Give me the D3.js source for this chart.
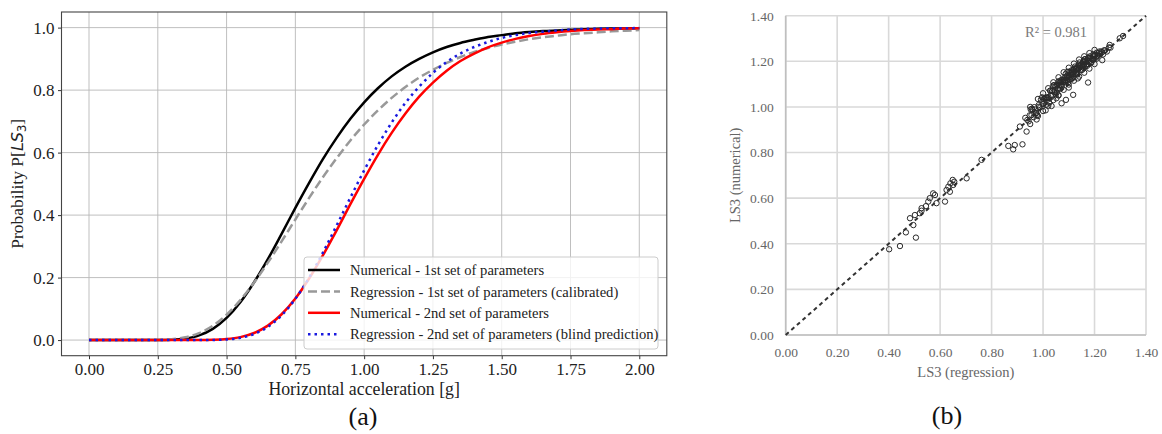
<!DOCTYPE html>
<html><head><meta charset="utf-8">
<script src="https://cdn.jsdelivr.net/npm/d3@7"></script>
<style>body{margin:0;background:#fff}svg{display:block}</style>
</head><body>
<svg id="c" width="1162" height="434"></svg>
<script>
// ---------- Data: chart (a) ----------
const accel = [0,0.05,0.1,0.15,0.2,0.25,0.3,0.35,0.4,0.45,0.5,0.55,0.6,0.65,0.7,0.75,0.8,0.85,0.9,0.95,1.0,1.05,1.1,1.15,1.2,1.25,1.3,1.35,1.4,1.45,1.5,1.55,1.6,1.65,1.7,1.75,1.8,1.85,1.9,1.95,2.0];
const numerical1 = [0,0,0,0,0,0.0001,0.001,0.0048,0.0149,0.0358,0.0708,0.121,0.185,0.259,0.340,0.423,0.503,0.579,0.647,0.708,0.761,0.806,0.844,0.875,0.900,0.921,0.938,0.951,0.961,0.970,0.976,0.982,0.986,0.989,0.991,0.993,0.995,0.996,0.997,0.9975,0.998];
const regression1 = [0,0,0,0,0,0.0005,0.0026,0.0088,0.0223,0.0459,0.0811,0.128,0.184,0.248,0.316,0.386,0.455,0.521,0.582,0.639,0.690,0.735,0.775,0.810,0.840,0.865,0.887,0.906,0.922,0.935,0.946,0.955,0.963,0.969,0.974,0.979,0.982,0.985,0.988,0.990,0.992];
const numerical2 = [0,0,0,0,0,0,0,0,0.0001,0.0008,0.0031,0.0094,0.0226,0.0462,0.0827,0.133,0.197,0.271,0.351,0.435,0.516,0.593,0.663,0.725,0.779,0.824,0.862,0.893,0.917,0.937,0.952,0.964,0.973,0.980,0.985,0.989,0.992,0.994,0.995,0.997,0.998];
const regression2 = [0,0,0,0,0,0,0,0,0.0001,0.0005,0.0022,0.0074,0.0194,0.0422,0.0793,0.132,0.200,0.280,0.367,0.456,0.543,0.624,0.696,0.759,0.811,0.855,0.890,0.917,0.938,0.954,0.967,0.976,0.983,0.987,0.991,0.994,0.996,0.997,0.998,0.998,0.999];
const seriesNames = ["Numerical - 1st set of parameters","Regression - 1st set of parameters (calibrated)","Numerical - 2nd set of parameters","Regression - 2nd set of parameters (blind prediction)"];
const xTicksA = [0,0.25,0.5,0.75,1.0,1.25,1.5,1.75,2.0];
const yTicksA = [0,0.2,0.4,0.6,0.8,1.0];

// ---------- Data: chart (b) ----------
const lsRegression = [
0.402,0.444,0.467,0.506,0.483,0.496,0.502,0.521,0.528,0.528,0.554,0.573,0.586,0.580,0.619,0.625,0.632,0.638,0.649,0.651,0.640,0.703,0.761,0.865,0.884,0.890,0.920,0.936,0.910,0.545,0.560,0.655,
0.931,0.944,0.952,0.939,0.957,0.963,0.948,0.971,0.966,0.977,0.983,0.959,0.989,0.996,0.974,1.002,1.011,0.992,1.018,1.007,
1.024,1.029,1.014,1.036,1.043,1.021,1.047,1.053,1.039,1.058,1.064,1.049,1.069,1.073,1.061,1.078,1.084,1.067,1.088,1.093,
1.081,1.097,1.102,1.086,1.106,1.111,1.095,1.116,1.121,1.104,1.124,1.129,1.113,1.133,1.138,1.119,1.142,1.147,1.127,1.151,
1.156,1.136,1.161,1.166,1.144,1.171,1.176,1.153,1.181,1.186,1.163,1.191,1.195,1.172,1.201,1.207,1.183,1.213,1.219,1.194,
1.226,1.233,1.209,1.241,1.248,1.222,1.262,1.027,1.055,1.091,1.118,1.149,1.174,1.198,1.068,1.109,1.139,1.159,1.188,1.211,
1.076,1.099,1.131,1.167,1.041,1.012,0.985,1.216,1.237,1.256,1.178,1.145,1.122,1.101,1.083,1.063,1.045,1.031,
1.052,1.057,1.066,1.071,1.079,1.087,1.094,1.103,1.107,1.114,1.126,1.134,1.141,1.154,1.162,1.169,1.184,1.192,1.204,1.229,
1.035,1.016,1.004,0.998,0.968,0.955,1.072,1.112,1.158,1.096,1.128,1.187,
0.950,0.950,0.980,0.980,1.000,1.000,1.020,1.020,1.040,1.040,1.060,1.060,1.080,1.080,1.100,1.100,1.120,1.120,1.140,1.140,1.160,1.160,1.180,1.180,1.200,1.200,1.230,
1.175,1.117,1.089,1.072,1.033,1.052,1.259,1.298,1.311,1.010,1.060,0.975,1.135,1.100];
const lsNumerical = [
0.376,0.390,0.450,0.427,0.512,0.482,0.526,0.534,0.545,0.556,0.585,0.621,0.578,0.614,0.585,0.636,0.650,0.628,0.680,0.658,0.665,0.687,0.768,0.829,0.814,0.833,0.836,0.892,0.914,0.565,0.600,0.672,
0.952,0.937,0.989,0.943,0.992,0.955,0.963,0.973,0.999,0.965,1.008,0.987,0.998,1.042,0.973,1.024,1.009,1.032,1.038,1.039,
1.018,1.072,1.043,1.049,1.096,1.043,1.089,1.063,1.093,1.078,1.111,1.054,1.108,1.089,1.113,1.108,1.129,1.080,1.145,1.119,
1.119,1.106,1.155,1.108,1.149,1.124,1.154,1.144,1.168,1.122,1.177,1.151,1.150,1.142,1.185,1.145,1.195,1.163,1.169,1.162,
1.198,1.165,1.207,1.181,1.181,1.180,1.216,1.174,1.216,1.195,1.210,1.208,1.230,1.187,1.230,1.211,1.222,1.224,1.243,1.206,
1.243,1.230,1.238,1.248,1.243,1.232,1.260,1.071,1.097,1.129,1.163,1.185,1.204,1.222,1.096,1.141,1.171,1.184,1.212,1.225,
1.111,1.137,1.167,1.195,1.066,1.039,1.001,1.236,1.248,1.261,1.200,1.174,1.156,1.135,1.113,1.096,1.075,1.053,
1.090,1.082,1.107,1.094,1.119,1.117,1.138,1.131,1.145,1.138,1.166,1.160,1.181,1.179,1.197,1.187,1.213,1.211,1.227,1.239,
1.070,1.031,1.035,1.012,0.989,0.964,1.119,1.161,1.202,1.116,1.144,1.194,
1.000,0.925,1.035,0.960,1.060,0.982,1.082,1.005,1.108,1.030,1.130,1.052,1.152,1.075,1.172,1.098,1.190,1.115,1.208,1.133,1.222,1.150,1.236,1.168,1.250,1.188,1.205,
1.107,1.053,1.031,1.016,1.004,1.038,1.272,1.301,1.311,0.985,1.050,0.945,1.125,1.085];
const ticksB = [0,0.2,0.4,0.6,0.8,1.0,1.2,1.4];
const r2Label = "R² = 0.981";

const svg = d3.select("#c");
const serif = "'Liberation Serif','Times New Roman',serif";

// ================= Chart (a) =================
const ax = {l:61.5, r:666.8, t:12, b:355.7};
const xA = d3.scaleLinear().domain([-0.1,2.1]).range([ax.l, ax.r]);
const yA = d3.scaleLinear().domain([-0.05,1.05]).range([ax.b, ax.t]);
const gA = svg.append("g");

gA.append("g").selectAll("line").data(xTicksA).join("line")
  .attr("x1",d=>xA(d)).attr("x2",d=>xA(d)).attr("y1",ax.t).attr("y2",ax.b)
  .attr("stroke","#b8b8b8").attr("stroke-width",0.9);
gA.append("g").selectAll("line").data(yTicksA).join("line")
  .attr("y1",d=>yA(d)).attr("y2",d=>yA(d)).attr("x1",ax.l).attr("x2",ax.r)
  .attr("stroke","#b8b8b8").attr("stroke-width",0.9);

const xAxisA = d3.axisBottom(xA).tickValues(xTicksA).tickFormat(d3.format(".2f")).tickSize(3.5).tickSizeOuter(0);
const yAxisA = d3.axisLeft(yA).tickValues(yTicksA).tickFormat(d3.format(".1f")).tickSize(3.5).tickSizeOuter(0);
const gxA = gA.append("g").attr("transform",`translate(0,${ax.b})`).call(xAxisA);
const gyA = gA.append("g").attr("transform",`translate(${ax.l},0)`).call(yAxisA);
[gxA,gyA].forEach(g=>{
  g.select(".domain").remove();
  g.selectAll(".tick line").attr("stroke","#333");
  g.selectAll("text").attr("font-family",serif).attr("font-size",17).attr("fill","#222");
});
gxA.selectAll("text").attr("dy","0.71em").attr("y",7);
gyA.selectAll("text").attr("x",-7);

const lineA = d3.line().x((d,i)=>xA(accel[i])).y(d=>yA(d)).curve(d3.curveMonotoneX);
const styles = [
  {data:numerical1, color:"#000", dash:null, w:2.5},
  {data:regression1, color:"#999", dash:"9,4", w:2.5},
  {data:numerical2, color:"#f00", dash:null, w:2.5},
  {data:regression2, color:"#1a1adf", dash:"2.5,4", w:2.5}
];
styles.forEach(s=>{
  gA.append("path").datum(s.data).attr("d",lineA).attr("fill","none")
    .attr("stroke",s.color).attr("stroke-width",s.w).attr("stroke-dasharray",s.dash);
});

gA.append("rect").attr("x",ax.l).attr("y",ax.t).attr("width",ax.r-ax.l).attr("height",ax.b-ax.t)
  .attr("fill","none").attr("stroke","#444").attr("stroke-width",1.1);

const lg = gA.append("g");
lg.append("rect").attr("x",304).attr("y",257).attr("width",354).attr("height",92).attr("rx",3)
  .attr("fill","#fff").attr("fill-opacity",0.8).attr("stroke","#ccc").attr("stroke-width",1);
styles.forEach((s,i)=>{
  const yy = 270 + i*21.4;
  lg.append("line").attr("x1",308).attr("x2",340).attr("y1",yy).attr("y2",yy)
    .attr("stroke",s.color).attr("stroke-width",s.w).attr("stroke-dasharray",s.dash);
  lg.append("text").attr("x",350).attr("y",yy).attr("dy","0.35em")
    .attr("font-family",serif).attr("font-size",14.6).attr("fill","#222").text(seriesNames[i]);
});

gA.append("text").attr("x",(ax.l+ax.r)/2).attr("y",395).attr("text-anchor","middle")
  .attr("font-family",serif).attr("font-size",17.8).attr("fill","#222").text("Horizontal acceleration [g]");
const yl = gA.append("text").attr("transform",`translate(23,${(ax.t+ax.b)/2}) rotate(-90)`).attr("text-anchor","middle")
  .attr("font-family",serif).attr("font-size",17.5).attr("fill","#222");
yl.append("tspan").text("Probability P[");
yl.append("tspan").attr("font-family","'DejaVu Sans'").attr("font-style","italic").attr("font-size",16).text("LS");
yl.append("tspan").attr("font-family","'DejaVu Sans'").attr("font-size",11.5).attr("dy",3).text("3");
yl.append("tspan").attr("dy",-3).text("]");
gA.append("text").attr("x",363).attr("y",425).attr("text-anchor","middle")
  .attr("font-family",serif).attr("font-size",26).attr("fill","#111").text("(a)");

// ================= Chart (b) =================
const bx = {l:785.7, r:1146, t:15.7, b:335};
const xB = d3.scaleLinear().domain([0,1.4]).range([bx.l, bx.r]);
const yB = d3.scaleLinear().domain([0,1.4]).range([bx.b, bx.t]);
const gB = svg.append("g");

gB.append("g").selectAll("line").data(ticksB).join("line")
  .attr("x1",d=>xB(d)).attr("x2",d=>xB(d)).attr("y1",bx.t).attr("y2",bx.b)
  .attr("stroke","#d9d9d9").attr("stroke-width",1.6);
gB.append("g").selectAll("line").data(ticksB).join("line")
  .attr("y1",d=>yB(d)).attr("y2",d=>yB(d)).attr("x1",bx.l).attr("x2",bx.r)
  .attr("stroke","#d9d9d9").attr("stroke-width",1.6);
gB.append("line").attr("x1",bx.l).attr("x2",bx.r).attr("y1",bx.b).attr("y2",bx.b).attr("stroke","#bfbfbf").attr("stroke-width",1.6);
gB.append("line").attr("x1",bx.l).attr("x2",bx.l).attr("y1",bx.t).attr("y2",bx.b).attr("stroke","#bfbfbf").attr("stroke-width",1.6);

const xAxisB = d3.axisBottom(xB).tickValues(ticksB).tickFormat(d3.format(".2f")).tickSize(0);
const yAxisB = d3.axisLeft(yB).tickValues(ticksB).tickFormat(d3.format(".2f")).tickSize(0);
const gxB = gB.append("g").attr("transform",`translate(0,${bx.b})`).call(xAxisB);
const gyB = gB.append("g").attr("transform",`translate(${bx.l},0)`).call(yAxisB);
[gxB,gyB].forEach(g=>{
  g.select(".domain").remove();
  g.selectAll("text").attr("font-family",serif).attr("font-size",13.5).attr("fill","#666");
});
gxB.selectAll("text").attr("y",12).attr("dy","0.71em");
gyB.selectAll("text").attr("x",-12);

gB.append("line").attr("x1",xB(0)).attr("y1",yB(0)).attr("x2",xB(1.4)).attr("y2",yB(1.4))
  .attr("stroke","#333").attr("stroke-width",2).attr("stroke-dasharray","4,3.5");

gB.append("g").selectAll("circle").data(lsRegression).join("circle")
  .attr("cx",d=>xB(d)).attr("cy",(d,i)=>yB(lsNumerical[i])).attr("r",2.7)
  .attr("fill","none").attr("stroke","#2a2a2a").attr("stroke-width",1);

gB.append("text").attr("x",1025).attr("y",37).attr("font-family",serif).attr("font-size",14.5)
  .attr("fill","#7a7a7a").text(r2Label);
gB.append("text").attr("x",(bx.l+bx.r)/2).attr("y",377).attr("text-anchor","middle")
  .attr("font-family",serif).attr("font-size",14.5).attr("fill","#666").text("LS3 (regression)");
gB.append("text").attr("transform",`translate(740,${(bx.t+bx.b)/2}) rotate(-90)`).attr("text-anchor","middle")
  .attr("font-family",serif).attr("font-size",14.5).attr("fill","#666").text("LS3 (numerical)");
gB.append("text").attr("x",947).attr("y",424).attr("text-anchor","middle")
  .attr("font-family",serif).attr("font-size",26).attr("fill","#111").text("(b)");
</script>
</body></html>
